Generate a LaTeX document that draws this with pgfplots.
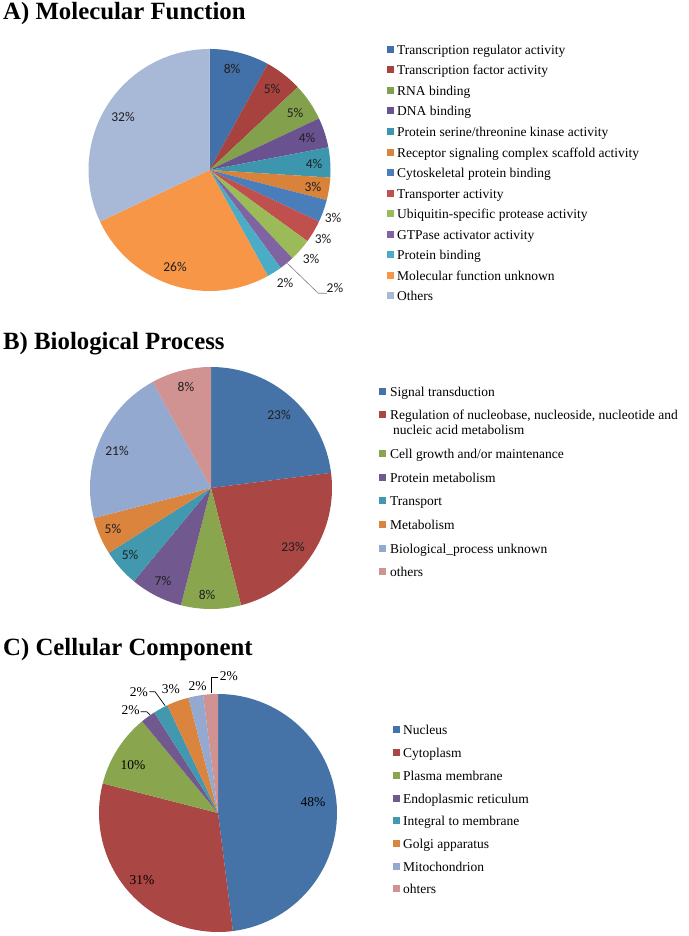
\documentclass[border=0pt]{standalone}
\usepackage{fontspec}
\setmainfont{Liberation Serif}
\newfontfamily\calibri{Carlito}
\usepackage{pgfplots}
\usepackage{pgfplotstable}
\pgfplotsset{compat=1.18}

% Panel A colours
\definecolor{cA1}{HTML}{4270A8}
\definecolor{cA2}{HTML}{A8423F}
\definecolor{cA3}{HTML}{83A04C}
\definecolor{cA4}{HTML}{6A5190}
\definecolor{cA5}{HTML}{3C97AE}
\definecolor{cA6}{HTML}{D9823A}
\definecolor{cA7}{HTML}{4A7EBB}
\definecolor{cA8}{HTML}{C0504D}
\definecolor{cA9}{HTML}{9BBB59}
\definecolor{cA10}{HTML}{8064A2}
\definecolor{cA11}{HTML}{4BACC6}
\definecolor{cA12}{HTML}{F79646}
\definecolor{cA13}{HTML}{A8B9D8}
% Panels B and C colours
\definecolor{cB1}{HTML}{4572A7}
\definecolor{cB2}{HTML}{AA4643}
\definecolor{cB3}{HTML}{89A54E}
\definecolor{cB4}{HTML}{71588F}
\definecolor{cB5}{HTML}{4198AF}
\definecolor{cB6}{HTML}{DB843D}
\definecolor{cB7}{HTML}{93A9CF}
\definecolor{cB8}{HTML}{D19392}

% value (percent), colour, label position (in radii)
\pgfplotstableread{
v col lx ly
8 cA1 0.186 0.835
5 cA2 0.517 0.669
5 cA3 0.707 0.471
4 cA4 0.806 0.264
4 cA5 0.864 0.050
3 cA6 0.855 -0.140
3 cA7 1.021 -0.397
3 cA8 0.938 -0.570
3 cA9 0.839 -0.736
2 cA10 1.037 -0.979
2 cA11 0.624 -0.934
26 cA12 -0.285 -0.802
32 cA13 -0.715 0.438
}\tabA

\pgfplotstableread{
v col lx ly
23 cB1 0.562 0.603
23 cB2 0.678 -0.488
8 cB3 -0.033 -0.884
7 cB4 -0.397 -0.769
5 cB5 -0.669 -0.554
5 cB6 -0.810 -0.339
21 cB7 -0.777 0.306
8 cB8 -0.207 0.835
}\tabB

\pgfplotstableread{
v col lx ly
48 cB1 0.798 0.092
31 cB2 -0.639 -0.563
10 cB3 -0.714 0.403
2 cB4 -0.735 0.866
2 cB5 -0.666 1.019
3 cB6 -0.397 1.042
2 cB7 -0.172 1.070
2 cB8 0.091 1.154
}\tabC

\newcommand\lblsans{\calibri\fontsize{13.5}{15}\selectfont\color{black!88}}
\newcommand\lblserif{\fontsize{13.5}{15}\selectfont}
\newcommand\legfont{\fontsize{13.5}{15}\selectfont}
\newcommand\titlefont{\fontsize{24.8}{28}\selectfont\bfseries}

\newcommand\piefromtable[2]{%
 \pgfplotstablegetrowsof{#1}%
 \pgfmathtruncatemacro\lastrow{\pgfplotsretval-1}%
 \def\cum{0}%
 \pgfplotsforeachungrouped \i in {0,...,\lastrow}{%
  \pgfplotstablegetelem{\i}{v}\of{#1}\let\vv\pgfplotsretval
  \pgfplotstablegetelem{\i}{col}\of{#1}\let\cc\pgfplotsretval
  \pgfplotstablegetelem{\i}{lx}\of{#1}\let\lx\pgfplotsretval
  \pgfplotstablegetelem{\i}{ly}\of{#1}\let\ly\pgfplotsretval
  \pgfmathsetmacro\aa{90-3.6*\cum}%
  \pgfmathsetmacro\cum{\cum+\vv}%
  \pgfmathsetmacro\bb{90-3.6*\cum}%
  \edef\temp{\noexpand\addplot[fill=\cc, draw=none, domain=\bb:\aa, samples=61]
     ({cos(\noexpand\x)},{sin(\noexpand\x)}) -- (axis cs:0,0) -- cycle;
   \noexpand\node[font=\noexpand#2, inner sep=0pt] at (axis cs:\lx,\ly) {\vv\noexpand\%};}%
  \temp
 }%
}

\pgfplotsset{pieaxis/.style={anchor=center, scale only axis, xmin=-1, xmax=1, ymin=-1, ymax=1, hide axis, clip=false}}

\begin{document}
\begin{tikzpicture}
\path[use as bounding box] (0pt,0pt) rectangle (688pt,936pt);

% A) Molecular Function
\begin{axis}[pieaxis, at={(209.5pt,766pt)}, width=242pt, height=242pt]
\piefromtable{\tabA}{\lblsans}
\draw[black!50, line width=0.6pt] (axis cs:0.643,-0.771) -- (axis cs:0.899,-1.019) -- (axis cs:0.969,-1.019);
\end{axis}

% B) Biological Process
\begin{axis}[pieaxis, at={(211pt,448pt)}, width=242pt, height=242pt]
\piefromtable{\tabB}{\lblsans}
\end{axis}

% C) Cellular Component
\begin{axis}[pieaxis, at={(218pt,123pt)}, width=238pt, height=238pt]
\piefromtable{\tabC}{\lblserif}
\draw[black, line width=0.7pt] (axis cs:-0.650,0.851) -- (axis cs:-0.599,0.851) -- (axis cs:-0.571,0.824);
\draw[black, line width=0.7pt] (axis cs:-0.577,1.019) -- (axis cs:-0.529,1.019) -- (axis cs:-0.445,0.902);
\draw[black, line width=0.7pt] (axis cs:0.0025,1.137) -- (axis cs:-0.053,1.137) -- (axis cs:-0.053,1.006);
\end{axis}

\begin{scope}[shift={(0pt,936pt)}, x=1pt, y=-1pt]
\node[anchor=base west, inner sep=0pt, font=\titlefont] at (3,20) {A) Molecular Function};
\node[anchor=base west, inner sep=0pt, font=\titlefont] at (3,350) {B) Biological Process};
\node[anchor=base west, inner sep=0pt, font=\titlefont] at (3,656) {C) Cellular Component};

% legend A
\foreach \c/\n [count=\k from 0] in {cA1/{Transcription regulator activity}, cA2/{Transcription factor activity}, cA3/{RNA binding}, cA4/{DNA binding}, cA5/{Protein serine/threonine kinase activity}, cA6/{Receptor signaling complex scaffold activity}, cA7/{Cytoskeletal protein binding}, cA8/{Transporter activity}, cA9/{Ubiquitin-specific protease activity}, cA10/{GTPase activator activity}, cA11/{Protein binding}, cA12/{Molecular function unknown}, cA13/{Others}}{
  \pgfmathsetmacro\yy{54.3+20.55*\k}
  \fill[\c] (387,\yy-8.5) rectangle (394,\yy-1.5);
  \node[anchor=base west, inner sep=0pt, font=\legfont] at (397,\yy) {\n};
}

% legend B
\foreach \c/\yy/\n in {cB1/396.5/{Signal transduction}, cB2/420/{Regulation of nucleobase, nucleoside, nucleotide and}, cB3/458.8/{Cell growth and/or maintenance}, cB4/482.5/{Protein metabolism}, cB5/506/{Transport}, cB6/529.3/{Metabolism}, cB7/553.3/{Biological\_process unknown}, cB8/576.5/{others}}{
  \fill[\c] (379,\yy-8.5) rectangle (386,\yy-1.5);
  \node[anchor=base west, inner sep=0pt, font=\legfont] at (390,\yy) {\n};
}
\node[anchor=base west, inner sep=0pt, font=\legfont] at (393,435) {nucleic acid metabolism};

% legend C
\foreach \c/\n [count=\k from 0] in {cB1/{Nucleus}, cB2/{Cytoplasm}, cB3/{Plasma membrane}, cB4/{Endoplasmic reticulum}, cB5/{Integral to membrane}, cB6/{Golgi apparatus}, cB7/{Mitochondrion}, cB8/{ohters}}{
  \pgfmathsetmacro\yy{735+22.7*\k}
  \fill[\c] (393,\yy-8.5) rectangle (400,\yy-1.5);
  \node[anchor=base west, inner sep=0pt, font=\legfont] at (403,\yy) {\n};
}
\end{scope}
\end{tikzpicture}
\end{document}
